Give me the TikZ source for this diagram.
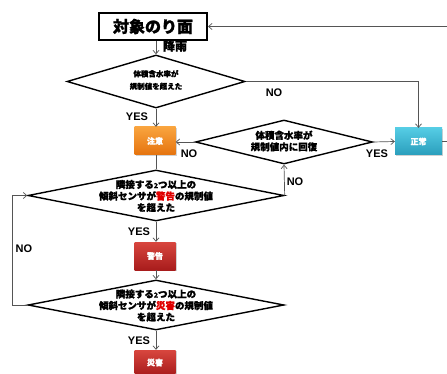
\documentclass[tikz,border=0pt]{standalone}
\usepackage{fontspec}
\setmainfont{Liberation Sans}
\newfontfamily\cjk{Noto Sans CJK JP}
\newfontfamily\cjkheavy{Noto Sans CJK JP}[BoldFeatures={FakeBold=1.2}]
\usetikzlibrary{shapes.geometric,arrows.meta,shadows}
\definecolor{linegray}{HTML}{555555}
\definecolor{orgtop}{HTML}{F9A43E}
\definecolor{orgbot}{HTML}{E5730E}
\definecolor{redtop}{HTML}{D8463E}
\definecolor{redbot}{HTML}{A81C1C}
\definecolor{teatop}{HTML}{55CCE4}
\definecolor{teabot}{HTML}{2A9EBC}
\definecolor{warnred}{HTML}{E00000}
\tikzset{
  conn/.style={draw=linegray, line width=0.7pt, -{Straight Barb[length=3.5pt,width=6pt]}},
  plain/.style={draw=linegray, line width=0.7pt},
  dia/.style={diamond, draw=black, line width=1.4pt, inner sep=0pt},
  dtext/.style={align=center, inner sep=0pt, font=\cjkheavy\bfseries\fontsize{9.5}{11.5}\selectfont},
  cbox/.style={rectangle, inner sep=0pt, minimum width=41, minimum height=28,
    text=white, font=\cjkheavy\bfseries\fontsize{8}{8}\selectfont,
    drop shadow={shadow xshift=1pt, shadow yshift=-1.2pt, opacity=0.35}},
  orgbox/.style={cbox, top color=orgtop, bottom color=orgbot},
  redbox/.style={cbox, top color=redtop, bottom color=redbot},
  teabox/.style={cbox, top color=teatop, bottom color=teabot},
  lbl/.style={inner sep=0pt, font=\bfseries\fontsize{11}{11}\selectfont},
  jlbl/.style={inner sep=0pt, font=\cjkheavy\bfseries\fontsize{12}{12}\selectfont},
}
\newcommand{\smalltwo}{{\fontsize{7}{7}\selectfont 2}}
\begin{document}
\begin{tikzpicture}[x=1pt,y=-1pt]
\useasboundingbox (0,0) rectangle (447,374);
\clip (0,0) rectangle (447,374);
\fill[white] (0,0) rectangle (447,374);

% top box
\node[draw=black, line width=2pt, minimum width=108, minimum height=27, inner sep=0pt,
  font=\cjkheavy\bfseries\fontsize{16}{16}\selectfont] (top) at (153,26.5) {対象のり面};

% diamonds
\node[dia, minimum width=178, minimum height=53] (d1) at (156,81.5) {};
\node[dtext, font=\cjkheavy\bfseries\fontsize{7.5}{12.5}\selectfont] (d1t) at (156,80) {体積含水率が\\規制値を超えた};

\node[dia, minimum width=177, minimum height=44] (d2) at (284,142) {};
\node[dtext] (d2t) at (284,141) {体積含水率が\\規制値内に回復};

\node[dia, minimum width=256, minimum height=51] (d3) at (156,195.5) {};
\node[dtext] (d3t) at (156,196) {隣接する\smalltwo つ以上の\\傾斜センサが\textcolor{warnred}{警告}の規制値\\を超えた};

\node[dia, minimum width=256, minimum height=50] (d4) at (156,305) {};
\node[dtext] (d4t) at (156,305.5) {隣接する\smalltwo つ以上の\\傾斜センサが\textcolor{warnred}{災害}の規制値\\を超えた};

% colored boxes
\node[orgbox] (cy) at (155,141) {注意};
\node[teabox, minimum width=47, minimum height=27] (zs) at (418.5,141.5) {正常};
\node[redbox] (kk) at (155,256) {警告};
\node[redbox, minimum height=25] (sg) at (155,362.5) {災害};

% connectors
\draw[conn] (zs.east) -- (452,141.5) -- (452,26.5) -- (top.east);
\draw[conn] (top.south -| d1.north) -- (d1.north);
\draw[conn] (d1.east) -| (zs.north);
\draw[conn] (d1.south) -- (d1.south |- cy.north);
\draw[conn] (d2.west) -- (d2.west -| cy.east);
\draw[conn] (d2.east) -- (zs.west);
\draw[plain] (cy.south -| d3.north) -- (d3.north);
\draw[conn] (d3.east) -- (d2.south);
\draw[conn] (d3.south) -- (d3.south |- kk.north);
\draw[conn] (kk.south -| d4.north) -- (d4.north);
\draw[conn] (d4.south) -- (d4.south |- sg.north);
\draw[conn] (d4.west) -- (12,305) -- (12,195.5) -- (d3.west);

% labels
\node[jlbl] (lrain) at (175,46) {降雨};
\node[lbl] (l1) at (274,93) {NO};
\node[lbl] (l2) at (137,117) {YES};
\node[lbl] (l3) at (189,154) {NO};
\node[lbl] (l4) at (377,154) {YES};
\node[lbl] (l5) at (295,182) {NO};
\node[lbl] (l6) at (139,232) {YES};
\node[lbl] (l7) at (24,249) {NO};
\node[lbl] (l8) at (139,341) {YES};
\end{tikzpicture}
\end{document}
